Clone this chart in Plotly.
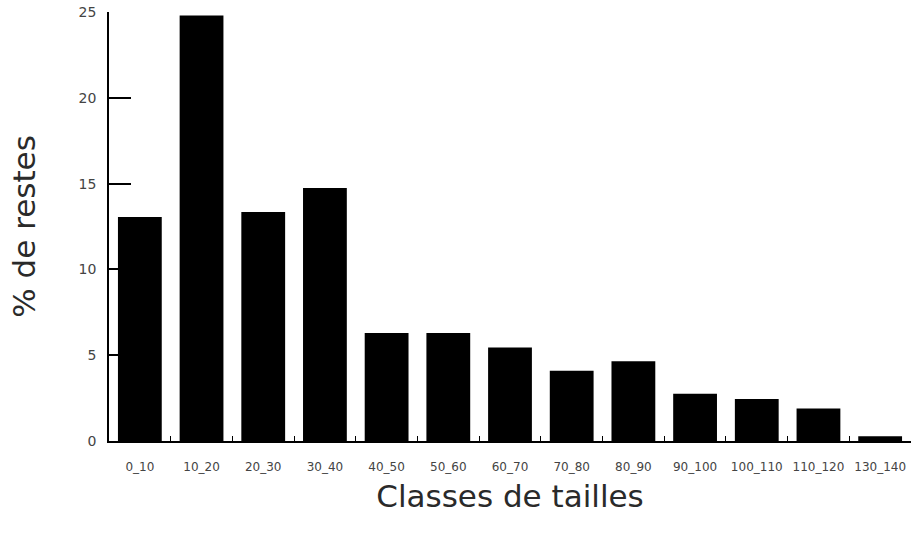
import plotly.graph_objects as go

categories = ["0_10", "10_20", "20_30", "30_40", "40_50", "50_60", "60_70",
              "70_80", "80_90", "90_100", "100_110", "110_120", "130_140"]
values = [13.05, 24.8, 13.35, 14.75, 6.3, 6.3, 5.45, 4.1, 4.65, 2.75, 2.45, 1.9, 0.28]
y_ticks = [0, 5, 10, 15, 20, 25]

FONT = "DejaVu Sans"

fig = go.Figure(go.Bar(
    x=categories, y=values,
    marker=dict(color="black", line=dict(width=0)),
))

fig.update_layout(
    width=911, height=540,
    margin=dict(l=109, r=0, t=12, b=99),
    paper_bgcolor="white", plot_bgcolor="white",
    bargap=0.29,
    showlegend=False,
    font=dict(family=FONT, color="#333"),
)

fig.update_xaxes(
    type="category",
    range=[-0.5, 12.5],
    automargin=False,
    showline=True, linecolor="black", linewidth=1.5,
    ticks="inside", tickson="boundaries", ticklen=5, tickcolor="black", tickwidth=1,
    showgrid=False,
    tickangle=0,
    ticklabeloverflow="allow",
    tickfont=dict(size=12, color="#444", family=FONT),
    ticklabelstandoff=14,
    title=dict(text="Classes de tailles", font=dict(size=31, color="#2a2a2a", family=FONT), standoff=12),
)

fig.update_yaxes(
    range=[0, 25],
    tickvals=y_ticks,
    automargin=False,
    showline=True, linecolor="black", linewidth=1.5,
    ticks="inside", ticklen=22, tickcolor="black", tickwidth=1.5,
    showgrid=False, zeroline=False,
    ticklabeloverflow="allow",
    tickfont=dict(size=14, color="#444", family=FONT),
    ticklabelstandoff=8,
    title=dict(text="% de restes", font=dict(size=31, color="#2a2a2a", family=FONT), standoff=34),
)

fig.write_html("out.html", config={"displayModeBar": False},
               post_script="document.body.style.margin='0';")
